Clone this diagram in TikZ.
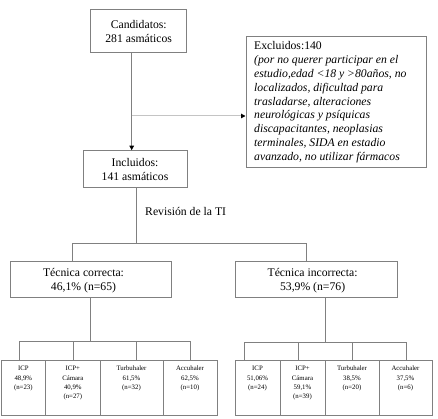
\documentclass[tikz,border=0pt]{standalone}
\usepackage{fontspec}
\setmainfont{Liberation Serif}
\usetikzlibrary{arrows.meta}
\definecolor{lg}{HTML}{808080}
\definecolor{llg}{HTML}{C4C4C4}
\begin{document}
\begin{tikzpicture}[x=1pt,y=-1pt,
  bigbox/.style={draw=lg, line width=1pt, inner sep=0pt, align=center,
    font=\fontsize{11.7}{13.8}\selectfont},
  btext/.style={inner sep=0pt, align=center, font=\fontsize{11.7}{13.8}\selectfont},
  sbox/.style={draw=lg, line width=1pt, inner sep=0pt, minimum height=55pt},
  stext/.style={anchor=north, inner sep=0pt, align=center,
    font=\fontsize{6.8}{9.3}\selectfont},
  ln/.style={draw=lg, line width=1pt},
  lln/.style={draw=llg, line width=1pt},
  tip/.style={-{Triangle[length=4.5pt,width=4.5pt,color=black]}},
  lbl/.style={font=\fontsize{11.7}{13.8}\selectfont, inner sep=0pt}
]
\useasboundingbox (0,0) rectangle (438,419);

% main boxes
\node[bigbox, minimum width=96pt, minimum height=43pt] (cand) at (138.7,31.5) {Candidatos:\\281 asmáticos};
\node[bigbox, minimum width=104pt, minimum height=37.3pt] (incl) at (135,169.35) {Incluidos:\\141 asmáticos};
\node[bigbox, minimum width=180pt, minimum height=131pt] (excl) at (336,102.5) {};
\node[anchor=north west, inner sep=0pt, align=left, font=\fontsize{11.7}{13.8}\selectfont] (exclt) at (254,41.5)
 {Excluidos:140\\
  \itshape (por no querer participar en el\\
  \itshape estudio,edad <18 y >80años, no\\
  \itshape localizados, dificultad para\\
  \itshape trasladarse, alteraciones\\
  \itshape neurológicas y psíquicas\\
  \itshape discapacitantes, neoplasias\\
  \itshape terminales, SIDA en estadio\\
  \itshape avanzado, no utilizar fármacos};
\node[bigbox, minimum width=161.7pt, minimum height=36pt] (tc) at (90.85,279) {};
\node[btext] (tct) at (83.5,281) {Técnica correcta:\\46,1\% (n=65)};
\node[bigbox, minimum width=162pt, minimum height=36pt] (ti) at (316,279) {};
\node[btext] (tit) at (312.6,281) {Técnica incorrecta:\\53,9\% (n=76)};
\node[lbl, anchor=west] (rev) at (145,211.7) {Revisión de la TI};

% small boxes left
\node[sbox, minimum width=44.7pt] (l1) at (23.35,387.5) {};
\node[sbox, minimum width=54.3pt] (l2) at (72.85,387.5) {};
\node[sbox, minimum width=63pt] (l3) at (131.5,387.5) {};
\node[sbox, minimum width=54pt] (l4) at (190,387.5) {};
% small boxes right
\node[sbox, minimum width=45pt] (r1) at (257.5,387.5) {};
\node[sbox, minimum width=45pt] (r2) at (302.5,387.5) {};
\node[sbox, minimum width=54pt] (r3) at (352,387.5) {};
\node[sbox, minimum width=53pt] (r4) at (405.5,387.5) {};

\node[stext] (l1t) at ([yshift=-6.5pt]l1.north) {ICP\\48,9\%\\(n=23)};
\node[stext] (l2t) at ([yshift=-6.5pt]l2.north) {ICP+\\Cámara\\40,9\%\\(n=27)};
\node[stext] (l3t) at ([yshift=-6.5pt]l3.north) {Turbuhaler\\61,5\%\\(n=32)};
\node[stext] (l4t) at ([yshift=-6.5pt]l4.north) {Accuhaler\\62,5\%\\(n=10)};
\node[stext] (r1t) at ([yshift=-6.5pt]r1.north) {ICP\\51,06\%\\(n=24)};
\node[stext] (r2t) at ([yshift=-6.5pt]r2.north) {ICP+\\Cámara\\59,1\%\\(n=39)};
\node[stext] (r3t) at ([yshift=-6.5pt]r3.north) {Turbuhaler\\38,5\%\\(n=20)};
\node[stext] (r4t) at ([yshift=-6.5pt]r4.north) {Accuhaler\\37,5\%\\(n=6)};

% connectors top
\coordinate (ca) at (131.7,116);
\draw[ln, tip] (cand.south -| ca) -- (incl.north -| ca);
\draw[lln, tip] (ca) -- (excl.west |- ca);

% incluidos to tecnica
\coordinate (ib) at (136,243);
\coordinate (tcx) at (72.7,243);
\coordinate (tix) at (306.7,243);
\draw[ln] (incl.south -| ib) -- (ib);
\draw[ln] (tc.north -| tcx) -- (tcx) -- (tix) -- (ti.north -| tix);

% tecnica correcta to small boxes
\coordinate (hl) at (90.7,341.7);
\coordinate (hl1) at (19,341.7);
\coordinate (hl2) at (73,341.7);
\coordinate (hl3) at (136,341.7);
\coordinate (hl4) at (190,341.7);
\draw[ln] (tc.south -| hl) -- (hl);
\draw[ln] (l1.north -| hl1) -- (hl1) -- (hl4) -- (l4.north -| hl4);
\draw[ln] (hl2) -- (l2.north -| hl2);
\draw[ln] (hl3) -- (l3.north -| hl3);

% tecnica incorrecta to small boxes
\coordinate (hr) at (325.3,342);
\coordinate (hr1) at (244,342);
\coordinate (hr2) at (298,342);
\coordinate (hr3) at (352,342);
\coordinate (hr4) at (406,342);
\draw[ln] (ti.south -| hr) -- (hr);
\draw[ln] (r1.north -| hr1) -- (hr1) -- (hr4) -- (r4.north -| hr4);
\draw[ln] (hr2) -- (r2.north -| hr2);
\draw[ln] (hr3) -- (r3.north -| hr3);
\end{tikzpicture}
\end{document}
